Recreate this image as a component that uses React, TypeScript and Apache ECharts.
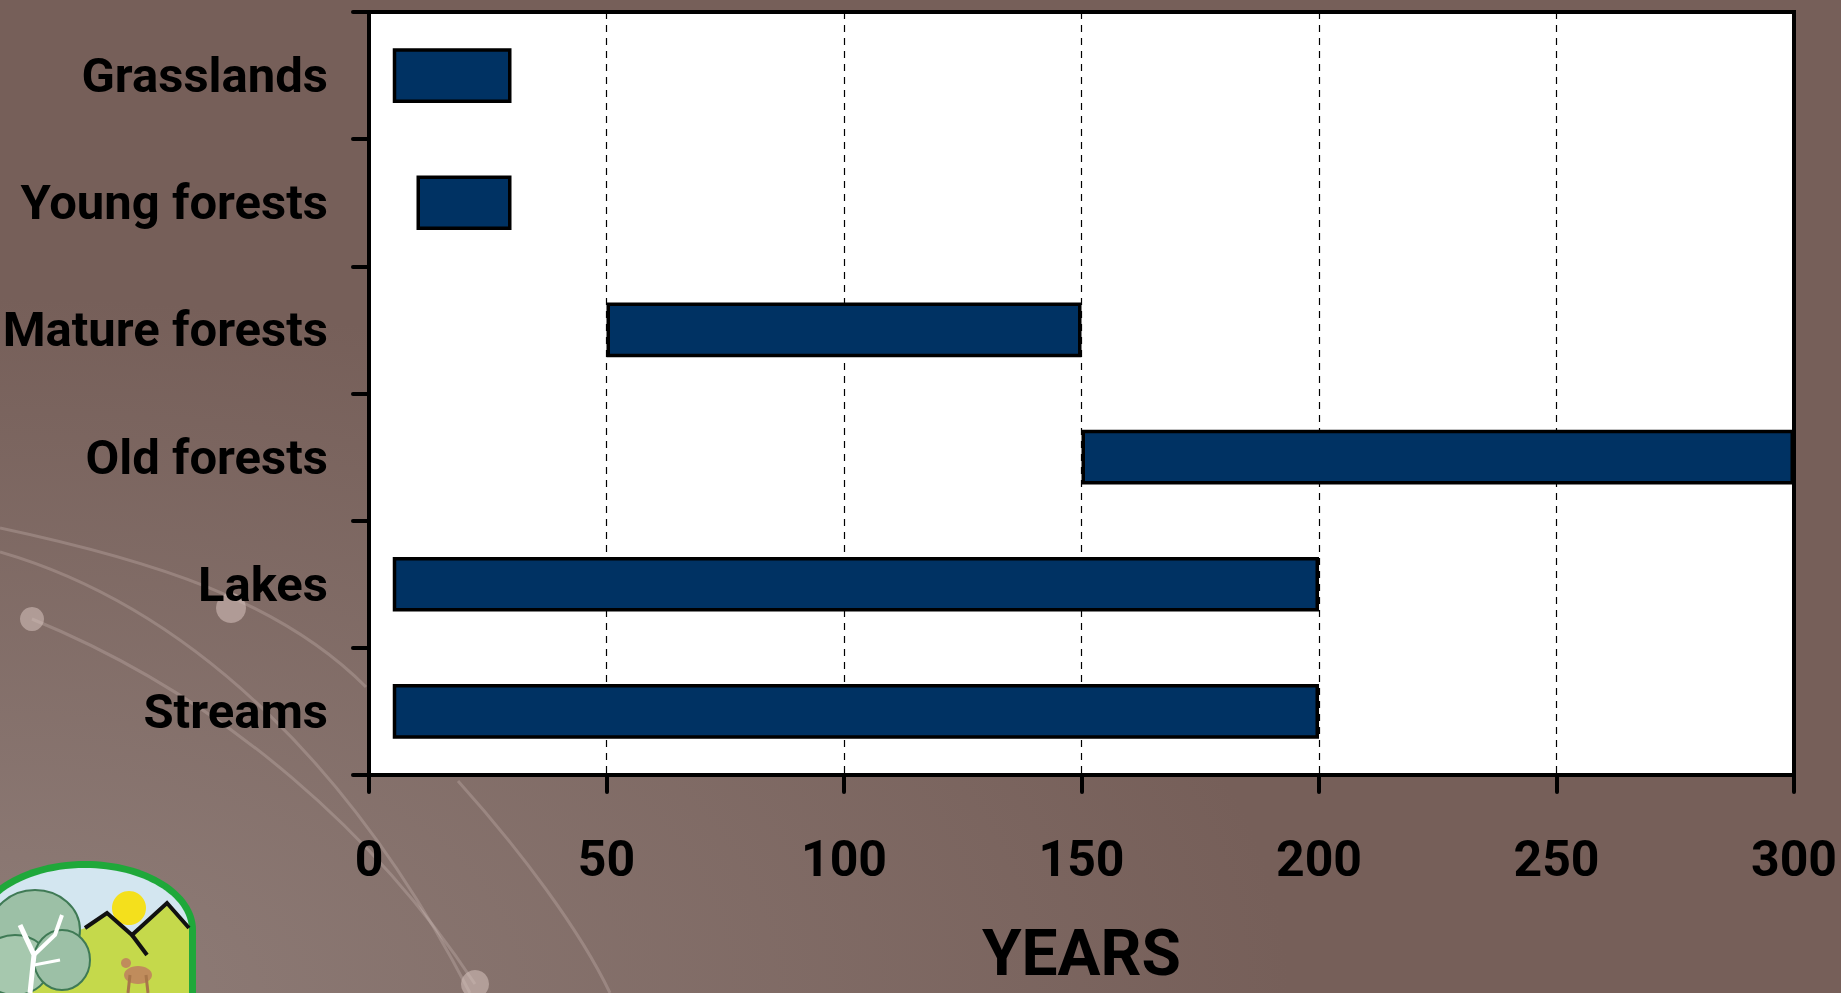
import React, { useEffect, useRef } from "react";
import * as echarts from "echarts";

const categories = ["Grasslands", "Young forests", "Mature forests", "Old forests", "Lakes", "Streams"];
const startYears = [5, 10, 50, 150, 5, 5];
const endYears = [30, 30, 150, 300, 200, 200];
const xTicks = [0, 50, 100, 150, 200, 250, 300];

const FONT = "Roboto, 'Liberation Sans', Arial, sans-serif";

export default function App() {
  const ref = useRef<HTMLDivElement>(null);
  useEffect(() => {
    if (!ref.current) return;
    const chart = echarts.init(ref.current, null, { renderer: "svg" });
    const durations = endYears.map((e, i) => e - startYears[i]);
    const curve = "rgba(235,220,215,0.22)";
    const option = {
      animation: false,
      backgroundColor: {
        type: "radial",
        x: 0,
        y: 1,
        r: 0.7,
        colorStops: [
          { offset: 0, color: "#8f7d78" },
          { offset: 1, color: "#765f59" },
        ],
      },
      grid: {
        left: 369,
        right: 47,
        top: 12,
        bottom: 218,
        containLabel: false,
        outerBoundsMode: "none",
        show: true,
        backgroundColor: "#ffffff",
        borderColor: "#000000",
        borderWidth: 4,
      },
      xAxis: {
        type: "value",
        min: xTicks[0],
        max: xTicks[xTicks.length - 1],
        interval: 50,
        name: "YEARS",
        nameLocation: "middle",
        nameGap: 146,
        nameTextStyle: { fontFamily: FONT, fontWeight: "bold", fontSize: 64, color: "#000" },
        axisLine: { show: true, lineStyle: { color: "#000", width: 4 } },
        axisTick: { show: true, length: 17, lineStyle: { color: "#000", width: 4, cap: "round" } },
        axisLabel: { margin: 59, fontFamily: FONT, fontWeight: "bold", fontSize: 50, color: "#000" },
        splitLine: { show: true, lineStyle: { color: "#000", width: 1.2, type: [7, 6] } },
      },
      yAxis: {
        type: "category",
        data: categories,
        inverse: true,
        axisLine: { show: true, lineStyle: { color: "#000", width: 4 } },
        axisTick: { show: true, length: 16, lineStyle: { color: "#000", width: 4, cap: "round" } },
        axisLabel: { margin: 41, fontFamily: FONT, fontWeight: "bold", fontSize: 49, color: "#000" },
        splitLine: { show: false },
      },
      series: [
        {
          type: "bar",
          stack: "range",
          data: startYears,
          barWidth: "43%",
          itemStyle: { color: "rgba(0,0,0,0)", borderWidth: 0 },
          silent: true,
          z: 3,
        },
        {
          type: "bar",
          stack: "range",
          data: durations,
          barWidth: "43%",
          itemStyle: { color: "#003263", borderColor: "#000", borderWidth: 3.5 },
          z: 3,
        },
      ],
      graphic: [
        { type: "bezierCurve", z: -1, shape: { x1: 0, y1: 528, cpx1: 150, cpy1: 560, cpx2: 280, cpy2: 600, x2: 366, y2: 687 }, style: { stroke: curve, lineWidth: 3, fill: null } },
        { type: "bezierCurve", z: -1, shape: { x1: 0, y1: 552, cpx1: 200, cpy1: 610, cpx2: 360, cpy2: 780, x2: 470, y2: 993 }, style: { stroke: curve, lineWidth: 3, fill: null } },
        { type: "bezierCurve", z: -1, shape: { x1: 32, y1: 619, cpx1: 230, cpy1: 700, cpx2: 380, cpy2: 840, x2: 475, y2: 984 }, style: { stroke: curve, lineWidth: 3, fill: null } },
        { type: "bezierCurve", z: -1, shape: { x1: 458, y1: 781, cpx1: 520, cpy1: 850, cpx2: 580, cpy2: 930, x2: 610, y2: 993 }, style: { stroke: curve, lineWidth: 3, fill: null } },
        { type: "circle", z: -1, shape: { cx: 32, cy: 619, r: 12 }, style: { fill: "rgba(215,195,190,0.55)" } },
        { type: "circle", z: -1, shape: { cx: 231, cy: 608, r: 15 }, style: { fill: "rgba(215,195,190,0.55)" } },
        { type: "circle", z: -1, shape: { cx: 475, cy: 984, r: 14 }, style: { fill: "rgba(215,195,190,0.55)" } },
        // logo
        { type: "ellipse", z: 5, shape: { cx: 85, cy: 930, rx: 111, ry: 69 }, style: { fill: "#1fa83a" } },
        { type: "rect", z: 5, shape: { x: -26, y: 930, width: 222, height: 63 }, style: { fill: "#1fa83a" } },
        { type: "ellipse", z: 6, shape: { cx: 85, cy: 930, rx: 104, ry: 62 }, style: { fill: "#d3e6f0" } },
        { type: "rect", z: 6, shape: { x: -19, y: 930, width: 208, height: 63 }, style: { fill: "#d3e6f0" } },
        { type: "circle", z: 7, shape: { cx: 129, cy: 908, r: 17 }, style: { fill: "#f4e01c" } },
        { type: "polygon", z: 8, shape: { points: [[-19, 960], [40, 945], [85, 928], [107, 913], [132, 935], [167, 903], [189, 925], [189, 993], [-19, 993]] }, style: { fill: "#c5d94b" } },
        { type: "polyline", z: 9, shape: { points: [[85, 928], [107, 913], [132, 935], [167, 903], [189, 928]] }, style: { stroke: "#111", lineWidth: 4, fill: null } },
        { type: "line", z: 9, shape: { x1: 132, y1: 935, x2: 147, y2: 955 }, style: { stroke: "#111", lineWidth: 4 } },
        { type: "ellipse", z: 10, shape: { cx: 35, cy: 930, rx: 45, ry: 40 }, style: { fill: "#9cc0a6", stroke: "#3f7a55", lineWidth: 2 } },
        { type: "ellipse", z: 10, shape: { cx: 15, cy: 965, rx: 35, ry: 30 }, style: { fill: "#a6c8ae", stroke: "#3f7a55", lineWidth: 2 } },
        { type: "ellipse", z: 10, shape: { cx: 62, cy: 960, rx: 28, ry: 30 }, style: { fill: "#9cc0a6", stroke: "#3f7a55", lineWidth: 2 } },
        { type: "polyline", z: 11, shape: { points: [[30, 993], [34, 955], [20, 925]] }, style: { stroke: "#ffffff", lineWidth: 5, fill: null } },
        { type: "polyline", z: 11, shape: { points: [[34, 955], [55, 935], [62, 915]] }, style: { stroke: "#ffffff", lineWidth: 4, fill: null } },
        { type: "polyline", z: 11, shape: { points: [[34, 965], [60, 960]] }, style: { stroke: "#ffffff", lineWidth: 3, fill: null } },
        { type: "ellipse", z: 11, shape: { cx: 138, cy: 975, rx: 14, ry: 9 }, style: { fill: "#c08c5c" } },
        { type: "line", z: 11, shape: { x1: 130, y1: 975, x2: 128, y2: 993 }, style: { stroke: "#a8764a", lineWidth: 3 } },
        { type: "line", z: 11, shape: { x1: 146, y1: 975, x2: 148, y2: 993 }, style: { stroke: "#a8764a", lineWidth: 3 } },
        { type: "circle", z: 11, shape: { cx: 126, cy: 963, r: 5 }, style: { fill: "#c08c5c" } },
      ],
    };
    chart.setOption(option as any);
    return () => chart.dispose();
  }, []);
  return (
    <div
      ref={ref}
      style={{ position: "fixed", left: 0, top: 0, width: 1841, height: 993 }}
    />
  );
}
